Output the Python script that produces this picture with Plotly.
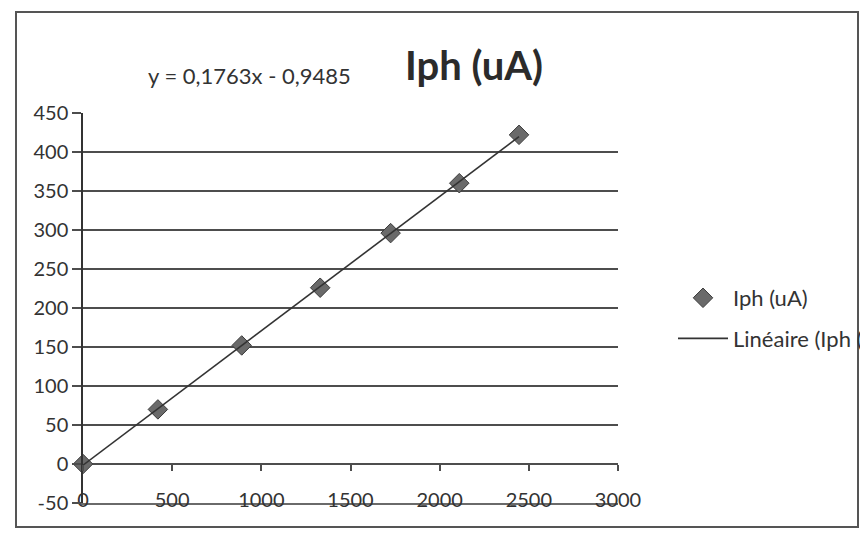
import numpy as np
import plotly.graph_objects as go

# ---- data ----
x_vals = [0, 420, 890, 1330, 1725, 2110, 2445]
iph_ua = [0, 70, 152, 226, 296, 360, 422]
series_name = "Iph (uA)"
trend_name = "Linéaire (Iph (uA))"
equation_text = "y = 0,1763x - 0,9485"
chart_title = "Iph (uA)"
x_ticks = [0, 500, 1000, 1500, 2000, 2500, 3000]
y_ticks = [-50, 0, 50, 100, 150, 200, 250, 300, 350, 400, 450]
y_tick_text = ["-50", "0", "50", "100", "150", "200", "250", "300", "350", "400", "450"]

# linear trendline computed from data
slope, intercept = np.polyfit(x_vals, iph_ua, 1)
trend_x = [min(x_vals), max(x_vals)]
trend_y = [slope * v + intercept for v in trend_x]

OFF = 8  # browser body margin
W, H = 868 - OFF, 534 - OFF
# target screen pixels of the plot area
PX_L, PX_R, PX_T, PX_B = 83, 618, 113, 503
ML, MR = PX_L - OFF, (868 - PX_R)
MT, MB = PX_T - OFF, (534 - PX_B)
PW, PH = PX_R - PX_L, PX_B - PX_T

def px_to_paper_x(px):
    return (px - PX_L) / PW

def py_to_paper_y(py):
    return (PX_B - py) / PH

GRID = "#4d4d4d"
TXT = "#333333"
FONT = "Lato"
FS = 20

fig = go.Figure()
fig.add_trace(go.Scatter(
    x=x_vals, y=iph_ua, mode="markers", name=series_name,
    marker=dict(symbol="diamond", size=15, color="#6a6a6a",
                line=dict(color="#3a3a3a", width=1)),
    cliponaxis=False, legendgroup="a",
))
fig.add_trace(go.Scatter(
    x=trend_x, y=trend_y, mode="lines", name=trend_name,
    line=dict(color="#333333", width=1.6), legendgroup="b",
))
# overlay axes: tick marks on the y=0 line, and the bottom line at y=-50
for ax in ("x2", "x3"):
    fig.add_trace(go.Scatter(x=[0], y=[0], xaxis=ax, mode="markers",
                             marker=dict(opacity=0), showlegend=False,
                             hoverinfo="skip"))

fig.update_layout(
    width=W, height=H,
    margin=dict(l=ML, r=MR, t=MT, b=MB, autoexpand=False),
    paper_bgcolor="white", plot_bgcolor="white",
    font=dict(family=FONT, size=FS, color=TXT),
    showlegend=True,
    title=dict(text="<b>" + chart_title + "</b>", x=(474 - OFF) / W, xanchor="center",
               y=1 - (66 - OFF) / H, yanchor="middle",
               font=dict(family=FONT, size=40, color="#2b2b2b")),
    xaxis=dict(range=[0, 3000], tickvals=x_ticks, ticktext=[str(v) for v in x_ticks],
               showgrid=False, zeroline=False, showline=False,
               anchor="free", position=py_to_paper_y(486), ticks="",
               tickfont=dict(family=FONT, size=FS, color=TXT)),
    xaxis2=dict(range=[0, 3000], overlaying="x", anchor="free", position=50 / 500,
                tickvals=x_ticks, showticklabels=False, ticks="outside",
                ticklen=6, tickwidth=1.5, tickcolor=GRID,
                showgrid=False, zeroline=False, showline=False),
    xaxis3=dict(range=[0, 3000], overlaying="x", anchor="y", side="bottom",
                showticklabels=False, ticks="", showgrid=False, zeroline=False,
                showline=True, linecolor="#6a6a6a", linewidth=2),
    yaxis=dict(range=[-50, 450], tickvals=y_ticks, ticktext=y_tick_text,
               showgrid=True, gridcolor=GRID,
               gridwidth=2, zeroline=False, showline=True, linecolor="#333333",
               linewidth=1.5, ticks="outside", ticklen=9, tickcolor=GRID,
               tickwidth=2, tickfont=dict(family=FONT, size=FS, color=TXT)),
    legend=dict(x=px_to_paper_x(673), xanchor="left", y=py_to_paper_y(277),
                yanchor="top", bgcolor="rgba(0,0,0,0)", traceorder="grouped",
                tracegroupgap=9, itemwidth=50,
                font=dict(family=FONT, size=22, color=TXT)),
    annotations=[dict(text=equation_text, xref="paper", yref="paper",
                      x=px_to_paper_x(249), y=py_to_paper_y(76),
                      xanchor="center", yanchor="middle", showarrow=False,
                      font=dict(family=FONT, size=22, color=TXT))],
    shapes=[dict(type="rect", xref="paper", yref="paper",
                 x0=px_to_paper_x(16), x1=px_to_paper_x(858),
                 y0=py_to_paper_y(527), y1=py_to_paper_y(12),
                 line=dict(color="#555555", width=2), layer="below")],
)

fig.write_html("out.html")
